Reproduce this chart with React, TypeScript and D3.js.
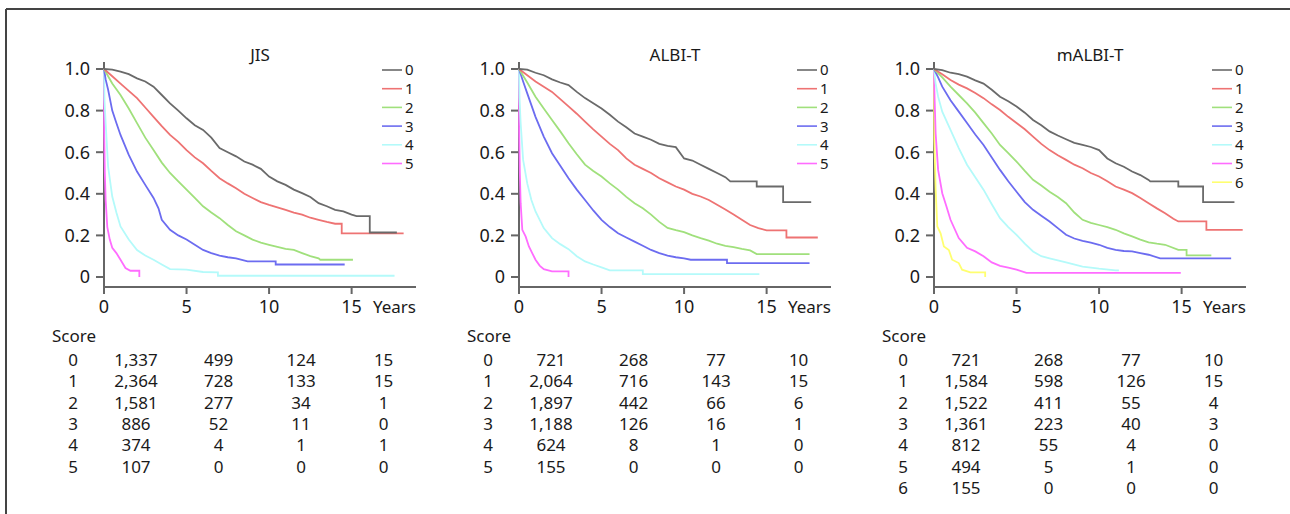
import React from "react";
import * as d3 from "d3";

type Pt = [number, number];

const width = 1290;
const height = 514;

const panelTitles = ["JIS", "ALBI-T", "mALBI-T"];
const xTicks = [0, 5, 10, 15];
const yTicks = [0, 0.2, 0.4, 0.6, 0.8, 1.0];
const seriesColors = ["#6a6a6a", "#ee7373", "#a0e07c", "#6c6cf0", "#b4fafa", "#ff6cff", "#ffff70"];

// survival curves, [years, proportion]
const jisCurves: Pt[][] = [
  [[0,1],[0.5,0.997],[1,0.987],[1.5,0.975],[2,0.955],[2.5,0.94],[3,0.915],[3.5,0.875],[4,0.835],[4.5,0.8],[5,0.763],[5.5,0.73],[6,0.707],[6.5,0.67],[7,0.62],[7.5,0.6],[8,0.58],[8.5,0.555],[9,0.54],[9.5,0.52],[10,0.483],[10.5,0.46],[11,0.443],[11.5,0.42],[12,0.403],[12.5,0.385],[13,0.355],[13.5,0.34],[14,0.323],[14.5,0.315],[15,0.3],[15.3,0.293],[16.1,0.293],[16.1,0.214],[17.74,0.214]],
  [[0,1],[0.5,0.965],[1,0.93],[1.5,0.895],[2,0.86],[2.5,0.815],[3,0.77],[3.5,0.725],[4,0.683],[4.5,0.65],[5,0.61],[5.5,0.575],[6,0.547],[6.5,0.51],[7,0.475],[7.5,0.45],[8,0.427],[8.5,0.4],[9,0.38],[9.5,0.36],[10,0.347],[10.5,0.335],[11,0.323],[11.5,0.31],[12,0.3],[12.5,0.285],[13,0.275],[13.5,0.265],[14,0.256],[14.4,0.256],[14.4,0.21],[18.15,0.21]],
  [[0,1],[0.25,0.965],[0.5,0.93],[1,0.875],[1.5,0.81],[2,0.74],[2.5,0.67],[3,0.61],[3.5,0.55],[4,0.5],[4.5,0.46],[5,0.42],[5.5,0.38],[6,0.34],[6.5,0.31],[7,0.283],[7.5,0.25],[8,0.22],[8.5,0.2],[9,0.18],[9.5,0.165],[10,0.155],[10.5,0.145],[11,0.135],[11.5,0.13],[12,0.115],[12.5,0.1],[13,0.09],[13.1,0.083],[15.08,0.083]],
  [[0,1],[0.1,0.95],[0.25,0.9],[0.5,0.8],[0.75,0.74],[1,0.683],[1.5,0.587],[2,0.507],[2.5,0.443],[3,0.38],[3.3,0.33],[3.5,0.275],[4,0.227],[4.5,0.2],[5,0.18],[5.5,0.155],[6,0.13],[6.5,0.115],[7,0.103],[7.5,0.095],[8,0.09],[8.7,0.075],[10.4,0.075],[10.4,0.06],[14.58,0.06]],
  [[0,1],[0.03,0.85],[0.1,0.74],[0.25,0.53],[0.5,0.387],[0.75,0.31],[1,0.243],[1.5,0.18],[2,0.13],[2.5,0.103],[3,0.083],[3.5,0.06],[4,0.038],[5,0.035],[6,0.024],[6.9,0.022],[6.9,0.006],[17.6,0.006]],
  [[0,1],[0.01,0.7],[0.05,0.5],[0.1,0.37],[0.2,0.24],[0.35,0.18],[0.5,0.14],[0.75,0.115],[1,0.083],[1.3,0.043],[1.6,0.03],[2.14,0.03],[2.14,0]],
];

const albiCurves: Pt[][] = [
  [[0,1],[0.5,0.997],[1,0.982],[1.5,0.97],[2,0.95],[2.5,0.935],[3,0.923],[3.5,0.89],[4,0.86],[4.5,0.835],[5,0.81],[5.5,0.78],[6,0.747],[6.5,0.72],[7,0.69],[7.5,0.675],[8,0.66],[8.5,0.64],[9,0.63],[9.5,0.624],[10,0.57],[10.5,0.56],[11,0.54],[11.5,0.52],[12,0.5],[12.5,0.48],[12.8,0.46],[14.4,0.46],[14.4,0.435],[16,0.435],[16,0.36],[17.7,0.36]],
  [[0,1],[0.5,0.97],[1,0.94],[1.5,0.915],[2,0.89],[2.5,0.855],[3,0.82],[3.5,0.785],[4,0.747],[4.5,0.71],[5,0.675],[5.5,0.64],[6,0.61],[6.5,0.57],[7,0.54],[7.5,0.52],[8,0.5],[8.5,0.475],[9,0.455],[9.5,0.435],[10,0.42],[10.5,0.4],[11,0.387],[11.5,0.37],[12,0.347],[12.5,0.325],[13,0.3],[13.5,0.275],[14,0.25],[14.5,0.235],[15,0.224],[16.2,0.224],[16.2,0.19],[18.1,0.19]],
  [[0,1],[0.5,0.935],[1,0.867],[1.5,0.81],[2,0.755],[2.5,0.7],[3,0.643],[3.5,0.59],[4,0.54],[4.5,0.51],[5,0.483],[5.5,0.45],[6,0.42],[6.5,0.385],[7,0.355],[7.5,0.33],[8,0.3],[8.5,0.265],[9,0.236],[9.5,0.225],[10,0.216],[10.5,0.2],[11,0.187],[11.5,0.175],[12,0.16],[12.5,0.15],[13,0.144],[13.5,0.135],[14,0.128],[14.4,0.11],[17.6,0.11]],
  [[0,1],[0.25,0.94],[0.5,0.883],[1,0.77],[1.5,0.675],[2,0.595],[2.5,0.535],[3,0.475],[3.5,0.42],[4,0.37],[4.5,0.32],[5,0.275],[5.5,0.24],[6,0.21],[6.5,0.19],[7,0.17],[7.5,0.15],[8,0.13],[8.5,0.115],[9,0.103],[9.5,0.095],[10,0.09],[10.4,0.083],[12.6,0.083],[12.6,0.067],[17.6,0.067]],
  [[0,1],[0.03,0.86],[0.1,0.74],[0.25,0.563],[0.5,0.45],[0.75,0.37],[1,0.315],[1.5,0.235],[2,0.187],[2.5,0.158],[3,0.134],[3.5,0.1],[4,0.075],[4.5,0.06],[5,0.046],[5.5,0.032],[7.5,0.032],[7.5,0.014],[14.56,0.014]],
  [[0,1],[0.01,0.7],[0.05,0.5],[0.1,0.355],[0.2,0.227],[0.4,0.195],[0.6,0.147],[0.8,0.115],[1,0.083],[1.25,0.055],[1.5,0.038],[2,0.027],[3,0.027],[3,0]],
];

const malbiCurves: Pt[][] = [
  [[0,1],[0.5,0.995],[1,0.982],[1.5,0.975],[2,0.963],[2.5,0.945],[3,0.93],[3.5,0.9],[4,0.867],[4.5,0.845],[5,0.82],[5.5,0.79],[6,0.755],[6.5,0.73],[7,0.7],[7.5,0.68],[8,0.662],[8.5,0.645],[9,0.635],[9.5,0.625],[10,0.61],[10.5,0.57],[11,0.547],[11.5,0.53],[12,0.507],[12.5,0.49],[13,0.467],[13.1,0.46],[14.8,0.46],[14.8,0.435],[16.3,0.435],[16.3,0.36],[18.2,0.36]],
  [[0,1],[0.5,0.975],[1,0.947],[1.5,0.925],[2,0.907],[2.5,0.885],[3,0.86],[3.5,0.83],[4,0.803],[4.5,0.77],[5,0.74],[5.5,0.71],[6,0.675],[6.5,0.64],[7,0.61],[7.5,0.585],[8,0.563],[8.5,0.54],[9,0.523],[9.5,0.5],[10,0.483],[10.5,0.46],[11,0.435],[11.5,0.42],[12,0.403],[12.5,0.38],[13,0.355],[13.5,0.33],[14,0.307],[14.5,0.28],[14.8,0.267],[16.5,0.267],[16.5,0.227],[18.7,0.227]],
  [[0,1],[0.5,0.96],[1,0.915],[1.5,0.875],[2,0.835],[2.5,0.79],[3,0.74],[3.5,0.69],[4,0.635],[4.5,0.595],[5,0.555],[5.5,0.51],[6,0.467],[6.5,0.44],[7,0.41],[7.5,0.385],[8,0.355],[8.5,0.31],[9,0.275],[9.5,0.26],[10,0.25],[10.5,0.24],[11,0.227],[11.5,0.21],[12,0.195],[12.5,0.18],[13,0.166],[13.5,0.16],[14,0.155],[14.8,0.13],[15.3,0.13],[15.3,0.104],[16.8,0.104]],
  [[0,1],[0.25,0.96],[0.5,0.915],[1,0.85],[1.5,0.795],[2,0.74],[2.5,0.685],[3,0.635],[3.5,0.575],[4,0.515],[4.5,0.46],[5,0.41],[5.5,0.36],[6,0.323],[6.5,0.295],[7,0.267],[7.5,0.235],[8,0.203],[8.5,0.185],[9,0.174],[9.5,0.165],[10,0.155],[10.5,0.14],[11,0.13],[11.5,0.125],[12,0.123],[12.5,0.115],[13,0.107],[13.7,0.09],[18,0.09]],
  [[0,1],[0.1,0.93],[0.25,0.867],[0.5,0.795],[1,0.707],[1.5,0.62],[2,0.54],[2.5,0.48],[3,0.42],[3.5,0.35],[4,0.283],[4.5,0.24],[5,0.203],[5.5,0.16],[6,0.123],[6.5,0.1],[7,0.09],[8,0.07],[9,0.05],[10,0.04],[11,0.032],[11.2,0.032]],
  [[0,1],[0.02,0.9],[0.05,0.82],[0.1,0.69],[0.25,0.515],[0.5,0.403],[0.75,0.34],[1,0.275],[1.5,0.187],[2,0.14],[2.5,0.123],[3,0.1],[3.5,0.07],[4,0.054],[4.5,0.045],[5,0.035],[5.6,0.02],[14.95,0.02]],
  [[0,1],[0.01,0.8],[0.02,0.66],[0.1,0.42],[0.2,0.243],[0.4,0.21],[0.6,0.147],[0.9,0.13],[1.1,0.083],[1.5,0.067],[1.7,0.035],[2.2,0.022],[3.1,0.022],[3.1,0]],
];

// numbers at risk at 0, 5, 10, 15 years
const jisAtRisk = [[1337,499,124,15],[2364,728,133,15],[1581,277,34,1],[886,52,11,0],[374,4,1,1],[107,0,0,0]];
const albiAtRisk = [[721,268,77,10],[2064,716,143,15],[1897,442,66,6],[1188,126,16,1],[624,8,1,0],[155,0,0,0]];
const malbiAtRisk = [[721,268,77,10],[1584,598,126,15],[1522,411,55,4],[1361,223,40,3],[812,55,4,0],[494,5,1,0],[155,0,0,0]];

const panels = [
  { title: panelTitles[0], curves: jisCurves, atRisk: jisAtRisk },
  { title: panelTitles[1], curves: albiCurves, atRisk: albiAtRisk },
  { title: panelTitles[2], curves: malbiCurves, atRisk: malbiAtRisk },
];

const axisLefts = [104, 519, 934];
const font = "'Noto Sans', 'Open Sans', sans-serif";
const fmt = d3.format(",");

const y = d3.scaleLinear().domain([0, 1]).range([277, 69]);

const Panel = ({ p, left }: { p: typeof panels[0]; left: number }) => {
  const x = d3.scaleLinear().domain([0, 18.9]).range([left, left + 312]);
  const line = d3.line<Pt>().x(d => x(d[0])).y(d => y(d[1])).curve(d3.curveLinear);
  const axisY = 287;
  return (
    <g fontFamily={font} fill="#1a1a1a">
      <text x={left + 156} y={61} fontSize={17} textAnchor="middle">{p.title}</text>
      {/* axes */}
      <line x1={left} x2={left} y1={62} y2={axisY} stroke="#666" strokeWidth={2} />
      <line x1={left - 1} x2={x(18.9)} y1={axisY} y2={axisY} stroke="#666" strokeWidth={2} />
      {yTicks.map(t => (
        <g key={t}>
          <line x1={left - 8} x2={left} y1={y(t)} y2={y(t)} stroke="#666" strokeWidth={2} />
          <text x={left - 14} y={y(t)} dy="0.36em" fontSize={18} textAnchor="end">
            {t === 0 ? "0" : t.toFixed(1)}
          </text>
        </g>
      ))}
      {xTicks.map(t => (
        <g key={t}>
          <line x1={x(t)} x2={x(t)} y1={axisY} y2={axisY + 7} stroke="#666" strokeWidth={2} />
          <text x={x(t)} y={313} fontSize={18} textAnchor="middle">{t}</text>
        </g>
      ))}
      <text x={x(18.9)} y={313} fontSize={17} textAnchor="end">Years</text>
      {/* curves */}
      {p.curves.map((c, i) => (
        <path key={i} d={line(c) || ""} fill="none" stroke={seriesColors[i]} strokeWidth={1.8} />
      )).reverse()}
      {/* legend */}
      {p.curves.map((_, i) => (
        <g key={i}>
          <line x1={left + 278} x2={left + 298} y1={70 + i * 18.7} y2={70 + i * 18.7}
            stroke={seriesColors[i]} strokeWidth={1.6} />
          <text x={left + 301} y={70 + i * 18.7} dy="0.36em" fontSize={15}>{i}</text>
        </g>
      ))}
      {/* numbers at risk */}
      <text x={left - 52} y={336} dy="0.36em" fontSize={17}>Score</text>
      {p.atRisk.map((row, i) => (
        <g key={i}>
          <text x={left - 31} y={360 + i * 21.3} dy="0.36em" fontSize={17} textAnchor="middle">{i}</text>
          {row.map((v, j) => (
            <text key={j} x={x(xTicks[j]) + 32} y={360 + i * 21.3} dy="0.36em" fontSize={17} textAnchor="middle">
              {fmt(v)}
            </text>
          ))}
        </g>
      ))}
    </g>
  );
};

export default function App() {
  return (
    <svg width={width} height={height} style={{ position: "absolute", left: 0, top: 0, background: "#fff" }}>
      <line x1={6} x2={width} y1={9} y2={9} stroke="#444" strokeWidth={2} />
      <line x1={6} x2={6} y1={9} y2={height} stroke="#444" strokeWidth={2} />
      {panels.map((p, i) => <Panel key={p.title} p={p} left={axisLefts[i]} />)}
    </svg>
  );
}
